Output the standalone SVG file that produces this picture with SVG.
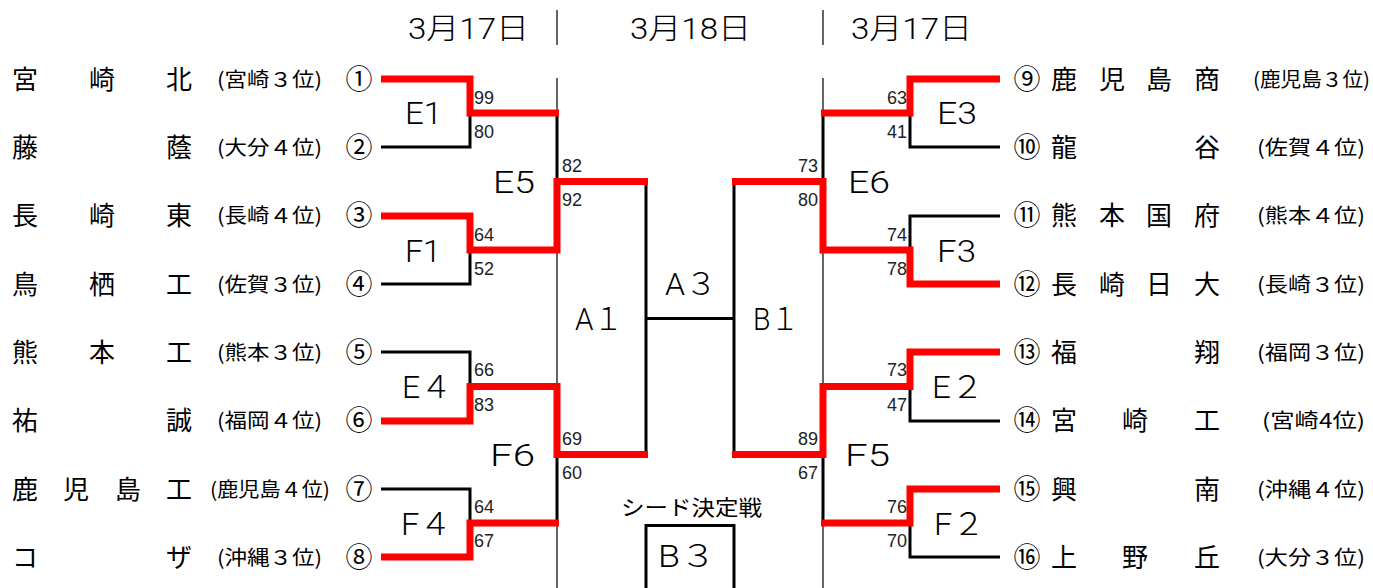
<svg xmlns="http://www.w3.org/2000/svg" width="1373" height="588" viewBox="0 0 1373 588">
<style>
.red{stroke:#ff0000;stroke-width:7;fill:none;stroke-linejoin:miter}
.blk{stroke:#000;stroke-width:3;fill:none;stroke-linejoin:miter}
.thin{stroke:#000;stroke-width:1.2;fill:none}
text{fill:#000}
.name{font-family:"Noto Sans CJK JP",sans-serif;font-size:26px}
.aff{font-family:"Noto Sans CJK JP",sans-serif;font-size:20px}
.num{font-family:"Noto Sans CJK JP",sans-serif;font-size:27px;text-anchor:middle}
.lbl{font-family:Roboto,"Noto Sans CJK JP",sans-serif;font-weight:300;font-size:31px}
.sc{font-family:"Liberation Sans",sans-serif;font-size:18px;fill:#222}
.scr{font-family:"Liberation Sans",sans-serif;font-size:18px;fill:#222;text-anchor:end}
.hdr{font-family:Roboto,"Noto Sans CJK JP",sans-serif;font-weight:300;font-size:29px}
.seed{font-family:"Noto Sans CJK JP",sans-serif;font-size:21px}
</style>
<rect width="1373" height="588" fill="#fff"/>

<g id="header">
<text class="hdr" x="408" y="39" textLength="121" lengthAdjust="spacingAndGlyphs">3月17日</text>
<text class="hdr" x="630" y="39" textLength="121" lengthAdjust="spacingAndGlyphs">3月18日</text>
<text class="hdr" x="851" y="39" textLength="121" lengthAdjust="spacingAndGlyphs">3月17日</text>
</g>

<g id="connectors">
<path class="thin" d="M557,10V45M823,10V45M557,78V588M823,78V588"/>
<path class="blk" d="M381,147H470V113M381,284H470V250M381,352H470V386.5M381,489H470V523M557,113V181.5M557,523V454.5M646,181.5V454.5M646,318.5H734M734,181.5V454.5M646,588V525.5H734V588"/>
<path class="blk" d="M1000,147H910V113M1000,216H910V250M1000,421H910V386.5M1000,557H910V523M823,113V181.5M823,523V454.5"/>
<path class="red" d="M381,79H470V113H559"/>
<path class="red" d="M381,216H470V250H557V181.5H648"/>
<path class="red" d="M381,421H470V386.5H557V454.5H648"/>
<path class="red" d="M381,557H470V523H559"/>
<path class="red" d="M1000,79H910V113H821"/>
<path class="red" d="M1000,284H910V250H823V181.5H732"/>
<path class="red" d="M1000,352H910V386.5H823V454.5H732"/>
<path class="red" d="M1000,489H910V523H821"/>
</g>

<g id="scores">
<text class="sc" x="474" y="103.5">99</text>
<text class="sc" x="474" y="137.5">80</text>
<text class="sc" x="562" y="171.5">82</text>
<text class="sc" x="562" y="205.5">92</text>
<text class="sc" x="474" y="240.5">64</text>
<text class="sc" x="474" y="274.5">52</text>
<text class="sc" x="474" y="376">66</text>
<text class="sc" x="474" y="410.5">83</text>
<text class="sc" x="562" y="444.5">69</text>
<text class="sc" x="562" y="478.5">60</text>
<text class="sc" x="474" y="513">64</text>
<text class="sc" x="474" y="547">67</text>
<text class="scr" x="907" y="103.5">63</text>
<text class="scr" x="907" y="137.5">41</text>
<text class="scr" x="818" y="171.5">73</text>
<text class="scr" x="818" y="205.5">80</text>
<text class="scr" x="907" y="240.5">74</text>
<text class="scr" x="907" y="274.5">78</text>
<text class="scr" x="907" y="376">73</text>
<text class="scr" x="907" y="410.5">47</text>
<text class="scr" x="818" y="444.5">89</text>
<text class="scr" x="818" y="478.5">67</text>
<text class="scr" x="907" y="513">76</text>
<text class="scr" x="907" y="547">70</text>
</g>

<g id="match-E1"><text class="lbl" x="405" y="124" textLength="37" lengthAdjust="spacingAndGlyphs">E1</text></g>
<g id="match-F1"><text class="lbl" x="405" y="261.5" textLength="36" lengthAdjust="spacingAndGlyphs">F1</text></g>
<g id="match-E4"><text class="lbl" x="402" y="398" textLength="50" lengthAdjust="spacingAndGlyphs">E４</text></g>
<g id="match-F4"><text class="lbl" x="401" y="534.5" textLength="51" lengthAdjust="spacingAndGlyphs">F４</text></g>
<g id="match-E5"><text class="lbl" x="493" y="193" textLength="42" lengthAdjust="spacingAndGlyphs">E5</text></g>
<g id="match-F6"><text class="lbl" x="490" y="466" textLength="45" lengthAdjust="spacingAndGlyphs">F6</text></g>
<g id="match-A1"><text class="lbl" x="575" y="330" textLength="48" lengthAdjust="spacingAndGlyphs">A１</text></g>
<g id="match-A3"><text class="lbl" x="665" y="295" textLength="52" lengthAdjust="spacingAndGlyphs">A３</text></g>
<g id="match-B1"><text class="lbl" x="753" y="330" textLength="46" lengthAdjust="spacingAndGlyphs">B１</text></g>
<g id="match-E3"><text class="lbl" x="937" y="124" textLength="40" lengthAdjust="spacingAndGlyphs">E3</text></g>
<g id="match-F3"><text class="lbl" x="937" y="261.5" textLength="39" lengthAdjust="spacingAndGlyphs">F3</text></g>
<g id="match-E2"><text class="lbl" x="932" y="398" textLength="52" lengthAdjust="spacingAndGlyphs">E２</text></g>
<g id="match-F2"><text class="lbl" x="934" y="534.5" textLength="51" lengthAdjust="spacingAndGlyphs">F２</text></g>
<g id="match-E6"><text class="lbl" x="848" y="193" textLength="42" lengthAdjust="spacingAndGlyphs">E6</text></g>
<g id="match-F5"><text class="lbl" x="845" y="466" textLength="45" lengthAdjust="spacingAndGlyphs">F5</text></g>
<g id="match-B3">
<text class="seed" x="621" y="515" textLength="141" lengthAdjust="spacingAndGlyphs">シード決定戦</text>
<text class="lbl" x="658" y="567" textLength="58" lengthAdjust="spacingAndGlyphs">B３</text>
</g>

<g id="team-1"><text class="name" x="12 89 166" y="88.5">宮崎北</text><text class="aff" x="217" y="86.5" textLength="105" lengthAdjust="spacingAndGlyphs">(宮崎３位)</text><text class="num" x="359" y="88.5">①</text></g>
<g id="team-2"><text class="name" x="12 166" y="156.5">藤蔭</text><text class="aff" x="217" y="154.5" textLength="105" lengthAdjust="spacingAndGlyphs">(大分４位)</text><text class="num" x="359" y="156.5">②</text></g>
<g id="team-3"><text class="name" x="12 89 166" y="225">長崎東</text><text class="aff" x="217" y="223" textLength="105" lengthAdjust="spacingAndGlyphs">(長崎４位)</text><text class="num" x="359" y="225">③</text></g>
<g id="team-4"><text class="name" x="12 89 166" y="293.5">鳥栖工</text><text class="aff" x="217" y="291.5" textLength="105" lengthAdjust="spacingAndGlyphs">(佐賀３位)</text><text class="num" x="359" y="293.5">④</text></g>
<g id="team-5"><text class="name" x="12 89 166" y="361.5">熊本工</text><text class="aff" x="217" y="359.5" textLength="105" lengthAdjust="spacingAndGlyphs">(熊本３位)</text><text class="num" x="359" y="361.5">⑤</text></g>
<g id="team-6"><text class="name" x="12 166" y="430">祐誠</text><text class="aff" x="217" y="428" textLength="105" lengthAdjust="spacingAndGlyphs">(福岡４位)</text><text class="num" x="359" y="430">⑥</text></g>
<g id="team-7"><text class="name" x="12 63 115 166" y="498.5">鹿児島工</text><text class="aff" x="210" y="496.5" textLength="120" lengthAdjust="spacingAndGlyphs">(鹿児島４位)</text><text class="num" x="359" y="498.5">⑦</text></g>
<g id="team-8"><text class="name" x="12 166" y="566.5">コザ</text><text class="aff" x="217" y="564.5" textLength="105" lengthAdjust="spacingAndGlyphs">(沖縄３位)</text><text class="num" x="359" y="566.5">⑧</text></g>

<g id="team-9"><text class="num" x="1027" y="88.5">⑨</text><text class="name" x="1051 1099 1146 1194" y="88.5">鹿児島商</text><text class="aff" x="1253" y="86.5" textLength="117" lengthAdjust="spacingAndGlyphs">(鹿児島３位)</text></g>
<g id="team-10"><text class="num" x="1027" y="156.5">⑩</text><text class="name" x="1051 1194" y="156.5">龍谷</text><text class="aff" x="1257" y="154.5" textLength="108" lengthAdjust="spacingAndGlyphs">(佐賀４位)</text></g>
<g id="team-11"><text class="num" x="1027" y="225">⑪</text><text class="name" x="1051 1099 1146 1194" y="225">熊本国府</text><text class="aff" x="1257" y="223" textLength="108" lengthAdjust="spacingAndGlyphs">(熊本４位)</text></g>
<g id="team-12"><text class="num" x="1027" y="293.5">⑫</text><text class="name" x="1051 1099 1146 1194" y="293.5">長崎日大</text><text class="aff" x="1257" y="291.5" textLength="108" lengthAdjust="spacingAndGlyphs">(長崎３位)</text></g>
<g id="team-13"><text class="num" x="1027" y="361.5">⑬</text><text class="name" x="1051 1194" y="361.5">福翔</text><text class="aff" x="1257" y="359.5" textLength="108" lengthAdjust="spacingAndGlyphs">(福岡３位)</text></g>
<g id="team-14"><text class="num" x="1027" y="430">⑭</text><text class="name" x="1051 1122 1194" y="430">宮崎工</text><text class="aff" x="1262" y="428" textLength="103" lengthAdjust="spacingAndGlyphs">(宮崎4位)</text></g>
<g id="team-15"><text class="num" x="1027" y="498.5">⑮</text><text class="name" x="1051 1194" y="498.5">興南</text><text class="aff" x="1257" y="496.5" textLength="108" lengthAdjust="spacingAndGlyphs">(沖縄４位)</text></g>
<g id="team-16"><text class="num" x="1027" y="566.5">⑯</text><text class="name" x="1051 1122 1194" y="566.5">上野丘</text><text class="aff" x="1257" y="564.5" textLength="108" lengthAdjust="spacingAndGlyphs">(大分３位)</text></g>
</svg>
